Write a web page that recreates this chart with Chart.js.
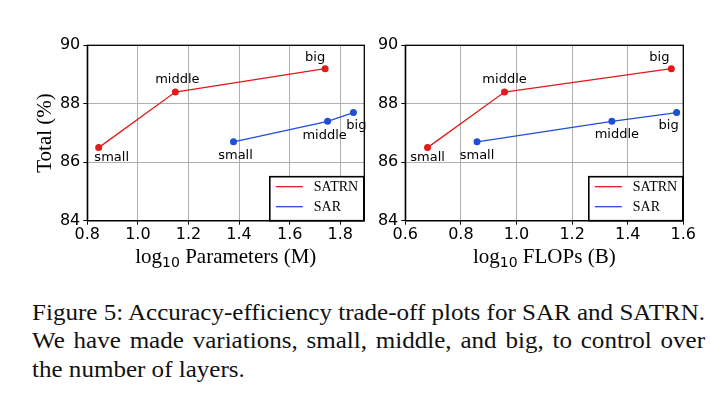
<!DOCTYPE html>
<html>
<head>
<meta charset="utf-8">
<script src="https://cdn.jsdelivr.net/npm/chart.js@4/dist/chart.umd.min.js"></script>
<style>
  body { margin: 0; background: #fff; width: 710px; height: 397px; position: relative; overflow: hidden; }
  canvas { position: absolute; top: 0; }
  #c1 { left: 0; }
  #c2 { left: 360px; }
  .cap { position: absolute; left: 32px; font-family: "Liberation Serif", "Times New Roman", serif;
         font-size: 23.5px; line-height: 28px; color: #111; white-space: nowrap; display: inline-block;
         transform-origin: 0 0; }
</style>
</head>
<body>
<canvas id="c1" width="375" height="280"></canvas>
<canvas id="c2" width="350" height="280"></canvas>
<span class="cap" id="cap1" style="top:298px">Figure 5: Accuracy-efficiency trade-off plots for SAR and SATRN.</span>
<span class="cap" id="cap2" style="top:325.5px">We have made variations, small, middle, and big, to control over</span>
<span class="cap" id="cap3" style="top:354.5px">the number of layers.</span>
<script>
// model sizes
const sizeLabels = ["small", "middle", "big"];

// x values (log10)
const satrnParams = [0.845, 1.148, 1.74];
const sarParams = [1.378, 1.75, 1.852];
const satrnFlops = [0.68, 0.957, 1.557];
const sarFlops = [0.858, 1.343, 1.576];

// y values (Total %)
const satrnTotal = [86.5, 88.4, 89.2];
const sarTotal = [86.7, 87.4, 87.7];

const seriesNames = ["SATRN", "SAR"];
const yTicks = [84, 86, 88, 90];

const RED = "#e01b1b";
const BLUE = "#1f4fd8";

// label offsets (px) from each point, per chart / series
const labelOffsets1 = [
  [[13, 10], [2, -12], [-10, -11]],
  [[2, 14], [-3, 14], [3, 13]]
];
const labelOffsets2 = [
  [[0, 10], [0, -12], [-12, -11]],
  [[0, 14], [5, 13], [-8, 13]]
];

// caption: squeeze like the first line, then stretch line 2's spaces to the full width
const capW = 673;
const cap1 = document.getElementById("cap1");
const cap2 = document.getElementById("cap2");
const cap3 = document.getElementById("cap3");
const sx = capW / cap1.getBoundingClientRect().width;
const natural2 = cap2.getBoundingClientRect().width * sx;
const gaps2 = cap2.textContent.split(" ").length - 1;
cap2.style.wordSpacing = ((capW - natural2) / sx / gaps2) + "px";
[cap1, cap2, cap3].forEach(el => { el.style.transform = "scaleX(" + sx + ")"; });

function toPoints(xs, ys) {
  return xs.map((x, i) => ({ x: x, y: ys[i] }));
}

const decor = {
  id: "decor",
  afterDatasetsDraw(chart) {
    const ctx = chart.ctx;
    const offs = chart.options.plugins.decor.offsets;
    ctx.save();
    ctx.font = "13px 'DejaVu Sans'";
    ctx.fillStyle = "#000";
    ctx.textAlign = "center";
    ctx.textBaseline = "middle";
    chart.data.datasets.forEach((ds, di) => {
      chart.getDatasetMeta(di).data.forEach((pt, i) => {
        ctx.fillText(sizeLabels[i], pt.x + offs[di][i][0], pt.y + offs[di][i][1]);
      });
    });
    ctx.restore();
  },
  afterDraw(chart) {
    const ctx = chart.ctx;
    const a = chart.chartArea;
    const opts = chart.options.plugins.decor;
    ctx.save();
    // frame
    ctx.strokeStyle = "#000";
    ctx.lineWidth = 1.3;
    ctx.strokeRect(a.left, a.top, a.right - a.left, a.bottom - a.top);

    // x title with subscript: log10 ...
    const big = "21px 'Liberation Serif'", sub = "14px 'DejaVu Sans'";
    ctx.textBaseline = "alphabetic";
    ctx.textAlign = "left";
    ctx.font = big;
    const w1 = ctx.measureText("log").width;
    const w3 = ctx.measureText(" " + opts.xTitle).width;
    ctx.font = sub;
    const w2 = ctx.measureText("10").width;
    let tx = (a.left + a.right) / 2 - (w1 + w2 + w3) / 2;
    const ty = 263;
    ctx.fillStyle = "#000";
    ctx.font = big;
    ctx.fillText("log", tx, ty);
    ctx.font = sub;
    ctx.fillText("10", tx + w1, ty + 4);
    ctx.font = big;
    ctx.fillText(" " + opts.xTitle, tx + w1 + w2, ty);

    // legend box
    const w = 94, h = 44;
    const bx = a.right - w - 0.5, by = a.bottom - h;
    ctx.fillStyle = "#fff";
    ctx.fillRect(bx, by, w, h);
    ctx.strokeStyle = "#000";
    ctx.lineWidth = 1.6;
    ctx.strokeRect(bx, by, w, h);
    ctx.font = "14px 'Liberation Serif'";
    ctx.textBaseline = "middle";
    chart.data.datasets.forEach((ds, di) => {
      const ly = by + 10 + di * 20;
      ctx.strokeStyle = ds.borderColor;
      ctx.lineWidth = 1.3;
      ctx.beginPath();
      ctx.moveTo(bx + 6, ly);
      ctx.lineTo(bx + 33, ly);
      ctx.stroke();
      ctx.fillStyle = "#000";
      ctx.fillText(ds.label, bx + 44, ly + 1);
    });
    ctx.restore();
  }
};

function makeChart(id, satrnX, sarX, xMin, xMax, xTitle, yWidth, showYTitle, rightPad, offsets) {
  return new Chart(document.getElementById(id), {
    type: "line",
    data: {
      datasets: [
        { label: seriesNames[0], data: toPoints(satrnX, satrnTotal), borderColor: RED, backgroundColor: RED },
        { label: seriesNames[1], data: toPoints(sarX, sarTotal), borderColor: BLUE, backgroundColor: BLUE }
      ]
    },
    options: {
      responsive: false,
      animation: false,
      devicePixelRatio: 1,
      layout: { padding: { top: 45.3, right: rightPad, left: 0, bottom: 0 } },
      elements: {
        line: { borderWidth: 1.3, tension: 0 },
        point: { radius: 3.5, borderWidth: 0 }
      },
      scales: {
        x: {
          type: "linear",
          min: xMin,
          max: xMax,
          afterFit: s => { s.height = 59.3; },
          grid: { color: "#b0b0b0", lineWidth: 1, tickLength: 4, tickColor: "#000" },
          border: { color: "#000", width: 1.3 },
          ticks: {
            stepSize: 0.2, includeBounds: false, autoSkip: false, maxRotation: 0, padding: 1,
            color: "#000", font: { family: "DejaVu Sans", size: 16 },
            callback: v => v.toFixed(1)
          },
          title: { display: false }
        },
        y: {
          min: yTicks[0],
          max: yTicks[yTicks.length - 1],
          afterFit: s => { s.width = yWidth; },
          grid: { color: "#b0b0b0", lineWidth: 1, tickLength: 4, tickColor: "#000" },
          border: { color: "#000", width: 1.3 },
          ticks: {
            stepSize: 2, padding: 3, color: "#000",
            font: { family: "DejaVu Sans", size: 16 }
          },
          title: {
            display: showYTitle, text: "Total (%)", color: "#000",
            font: { family: "Liberation Serif", size: 21 },
            padding: { top: 32.4, bottom: 0 }
          }
        }
      },
      plugins: {
        legend: { display: false },
        tooltip: { enabled: false },
        decor: { offsets: offsets, xTitle: xTitle }
      }
    },
    plugins: [decor]
  });
}

makeChart("c1", satrnParams, sarParams, 0.8, 1.895, "Parameters (M)", 87.3, true, 10.7, labelOffsets1);
makeChart("c2", satrnFlops, sarFlops, 0.6, 1.6, "FLOPs (B)", 45.3, false, 26.7, labelOffsets2);
</script>
</body>
</html>
